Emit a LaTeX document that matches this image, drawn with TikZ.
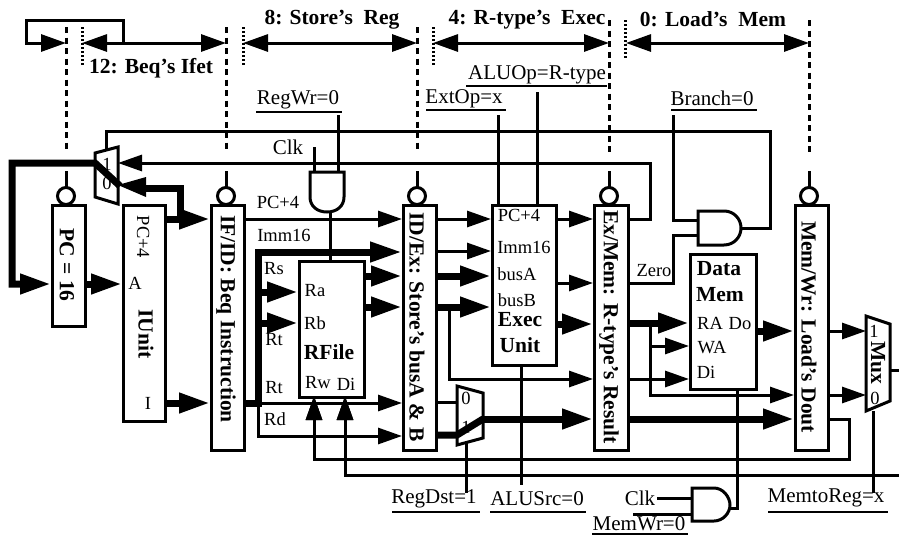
\documentclass[tikz,border=0pt]{standalone}
\usepackage{fontspec}
\setmainfont{Liberation Serif}
\usetikzlibrary{arrows.meta,calc}
\tikzset{
  x=1pt,y=-1pt,
  box/.style={draw,line width=3pt,inner sep=0pt,fill=white,anchor=north west},
  wire/.style={line width=3pt,line cap=butt,line join=miter},
  fat/.style={line width=7pt,line cap=butt,line join=miter},
  head/.style={-{Triangle[length=24pt,width=16pt]}},
  fathead/.style={-{Triangle[length=31pt,width=19pt]}},
  stagearrow/.style={line width=3pt,{Triangle[length=25pt,width=17pt]}-{Triangle[length=25pt,width=17pt]}},
  stagedash/.style={line width=3pt,dash pattern=on 6pt off 4.5pt},
  stagedot/.style={line width=3pt,dash pattern=on 2pt off 2pt},
  reg/.style={font=\fontsize{18.5}{20}\selectfont,inner sep=0pt,text height=12pt,text depth=0pt},
  ctl/.style={font=\fontsize{21}{22}\selectfont,inner sep=0pt},
  bld/.style={font=\fontsize{21.5}{24}\bfseries\selectfont,inner sep=0pt},
  vert/.style={bld,rotate=-90},
  latch/.style={draw,circle,line width=3pt,minimum size=17pt,inner sep=0pt,fill=white},
  uline/.style={line width=2.4pt},
  gateline/.style={line width=3pt,fill=white},
}
\newcommand{\boxnode}[5]{\node[box,minimum width=#4-#2,minimum height=#5-#3] (#1) at (#2,#3) {};}
\begin{document}
\begin{tikzpicture}
\useasboundingbox (0,0) rectangle (899,536);
\fill[white] (0,0) rectangle (899,536);

% stage boundary coordinates
\coordinate (d1) at (66,27);   \coordinate (d1b) at (66,153);
\coordinate (d2) at (226,27);  \coordinate (d2b) at (226,153);
\coordinate (d3) at (417,27);  \coordinate (d3b) at (417,153);
\coordinate (d4) at (609,20);  \coordinate (d4b) at (609,153);
\coordinate (d5) at (809,20);  \coordinate (d5b) at (809,153);
\coordinate (o1) at (82,27);   \coordinate (o1b) at (82,65);
\coordinate (o2) at (243,27);  \coordinate (o2b) at (243,65);
\coordinate (o3) at (433,27);  \coordinate (o3b) at (433,65);
\coordinate (o4) at (625,20);  \coordinate (o4b) at (625,58);
\foreach \a/\b in {d1/d1b,d2/d2b,d3/d3b,d4/d4b,d5/d5b}{\draw[stagedash] (\a)--(\b);}
\foreach \a/\b in {o1/o1b,o2/o2b,o3/o3b,o4/o4b}{\draw[stagedot] (\a)--(\b);}

% stage arrows
\coordinate (t1) at (66,43); \coordinate (t0) at (26,43); \coordinate (t00) at (26,20); \coordinate (t01) at (123,20); \coordinate (t02) at (123,43);
\coordinate (a1l) at (82,43); \coordinate (a1r) at (226,43);
\coordinate (a2l) at (243,43); \coordinate (a2r) at (417,43);
\coordinate (a3l) at (433,43); \coordinate (a3r) at (609,43);
\coordinate (a4l) at (626,43); \coordinate (a4r) at (809,43);
\draw[wire,-{Triangle[length=25pt,width=17pt]}] (t02)--(t01)--(t00)--(t0)--(t1);
\draw[stagearrow] (a1l)--(a1r);
\draw[stagearrow] (a2l)--(a2r);
\draw[stagearrow] (a3l)--(a3r);
\draw[stagearrow] (a4l)--(a4r);

% stage titles
\node[bld] (s12) at (151,68) {12: Beq’s Ifet};
\node[bld] (s8) at (332,20) {8: Store’s\ \ Reg};
\node[bld] (s4) at (527,20) {4: R-type’s\ \ Exec};
\node[bld] (s0) at (713,19) {0: Load’s\ \ Mem};

% control rails
\coordinate (r1a) at (106,150); \coordinate (r1b) at (106,131); \coordinate (r1c) at (770,131); \coordinate (r1d) at (770,228);
\coordinate (andbr) at (741,228);
\draw[wire] (r1a)--(r1b)--(r1c)--(r1d)--(andbr);
\coordinate (r2a) at (627,219); \coordinate (r2b) at (650,219); \coordinate (r2c) at (650,163); \coordinate (m1one) at (118,163);
\draw[wire,head] (r2a)--(r2b)--(r2c)--(m1one);

% control signals down
\coordinate (ext1) at (498,115); \coordinate (ext2) at (498,204);
\coordinate (alu1) at (537,92);  \coordinate (alu2) at (537,204);
\draw[wire] (ext1)--(ext2);
\draw[wire] (alu1)--(alu2);
\coordinate (clkr) at (314,147); \coordinate (clkr2) at (314,172);
\coordinate (rw1) at (338,115);  \coordinate (rw2) at (338,172);
\draw[wire] (clkr)--(clkr2);
\draw[wire] (rw1)--(rw2);
\coordinate (andr) at (330,210); \coordinate (rf) at (330,262);
\draw[wire] (andr)--(rf);

% feedback rails
\coordinate (fb1) at (827,419); \coordinate (fb2) at (849,419); \coordinate (fb3) at (849,459); \coordinate (fb4) at (314,459); \coordinate (rwport) at (314,396);
\draw[wire,head] (fb1)--(fb2)--(fb3)--(fb4)--(rwport);
\coordinate (mout) at (890,370); \coordinate (mout2) at (899,370);
\draw[wire] (mout)--(mout2);
\coordinate (fc1) at (899,475); \coordinate (fc2) at (345,475); \coordinate (diport) at (345,396);
\draw[wire,head] (fc1)--(fc2)--(diport);

% boxes
\boxnode{pc}{51}{204}{84}{325}
\boxnode{iu}{122}{204}{164}{420}
\boxnode{ifid}{210}{204}{243}{449}
\boxnode{idex}{402}{204}{435}{449}
\boxnode{exmem}{593}{204}{627}{449}
\boxnode{memwr}{794}{204}{827}{449}

% latches
\foreach \n/\x/\b in {l1/66/pc,l2/226/ifid,l3/417/idex,l4/609/exmem,l5/809/memwr}{
  \node[latch] (\n) at (\x,196) {};
  \coordinate (\n t) at (\x,171);
  \draw[wire] (\n t)--(\x,188);
}

% wires through the datapath, behind units
\coordinate (pcp1) at (243,219); \coordinate (pcp2) at (402,219);
\draw[wire,head] (pcp1)--(pcp2);
\coordinate (bar1) at (402,252); \coordinate (bar2) at (258,252); \coordinate (bar3) at (258,403); \coordinate (bar4) at (243,403);
\draw[fat,-{Triangle[length=32pt,width=19pt]}] (bar4)--(bar3)--(bar2)--(bar1);
\coordinate (rt) at (258,403); \coordinate (rtend) at (402,403);
\draw[wire,head] (rt)--(rtend);
\coordinate (rd1) at (258,403); \coordinate (rd2) at (258,436); \coordinate (rd3) at (402,436);
\draw[wire,head] (rd1)--(rd2)--(rd3);

% register file
\boxnode{rfile}{298}{260}{363}{396}
\coordinate (rsb) at (258,292); \coordinate (rsp) at (298,292);
\coordinate (rtb) at (258,323); \coordinate (rtp) at (298,323);
\draw[fat,fathead] (rsb)--(rsp);
\draw[fat,fathead] (rtb)--(rtp);
\coordinate (ba1) at (363,276); \coordinate (ba2) at (402,276);
\coordinate (bb1) at (363,307); \coordinate (bb2) at (402,307);
\draw[fat,fathead] (ba1)--(ba2);
\draw[fat,fathead] (bb1)--(bb2);

% the feedback tips over the register file edge
\coordinate (rwt) at (314,425); \draw[wire,head] (rwt)--(rwport);
\coordinate (dit) at (345,425); \draw[wire,head] (dit)--(diport);

% gate RegWr
\draw[gateline] (310,172)--(344,172)--(344,197) .. controls (344,206) and (337,212) .. (327,212) .. controls (317,212) and (310,206) .. (310,197) --cycle;

% exec unit wires
\coordinate (e1) at (435,219); \coordinate (e1b) at (491,219);
\coordinate (e2) at (435,251); \coordinate (e2b) at (491,251);
\coordinate (e3) at (435,276); \coordinate (e3b) at (491,276);
\coordinate (e4) at (435,307); \coordinate (e4b) at (491,307);
\draw[wire,head] (e1)--(e1b);
\draw[wire,head] (e2)--(e2b);
\draw[fat,fathead] (e3)--(e3b);
\draw[fat,fathead] (e4)--(e4b);
\coordinate (br1) at (449,307); \coordinate (br2) at (449,379); \coordinate (br3) at (593,379);
\draw[wire,head] (br1)--(br2)--(br3);
\coordinate (alus) at (521,485); \coordinate (alus0) at (521,360);
\draw[wire] (alus0)--(alus);
\coordinate (mo1) at (481,419); \coordinate (mo2) at (593,419);
\draw[fat,fathead] (mo1)--(mo2);
\coordinate (rd4) at (466,441); \coordinate (rd5) at (466,493);
\draw[wire] (rd4)--(rd5);

\boxnode{exec}{491}{204}{555}{364}
\coordinate (x1) at (555,219); \coordinate (x1b) at (593,219);
\coordinate (x2) at (555,283); \coordinate (x2b) at (593,283);
\coordinate (x3) at (555,324); \coordinate (x3b) at (593,324);
\draw[wire,head] (x1)--(x1b);
\draw[wire,head] (x2)--(x2b);
\draw[fat,fathead] (x3)--(x3b);

% mux RegDst
\draw[line width=3pt] (457,386)--(483,393)--(483,438)--(457,445)--cycle;
\coordinate (mi0) at (435,402); \coordinate (mi0b) at (457,402);
\coordinate (mi1) at (435,435); \coordinate (mi1b) at (457,435);
\draw[wire] (mi0)--(mi0b);
\node[reg] (m2a) at (466,398) {0};
\node[reg] (m2b) at (466,427) {1};
\draw[fat] (mi1)--(mi1b)--(483,419);

% mux PC
\draw[line width=3pt] (95,153)--(118,147)--(118,204)--(95,197)--cycle;
\node[reg] (m1a) at (107,164) {1};
\node[reg] (m1b) at (107,183) {0};
\coordinate (pp1) at (164,219); \coordinate (pp2) at (210,219);
\draw[fat,fathead] (pp1)--(pp2);
\coordinate (pq1) at (180,219); \coordinate (pq2) at (180,188); \coordinate (pq3) at (120,185);
\draw[fat,line join=miter] (pq1)--(pq2)--(140,188);
\fill (146,177)--(146,197)--(118,185)--cycle;
\coordinate (pm) at (120,186); \coordinate (pm2) at (95,163); \coordinate (pm3) at (12,163); \coordinate (pm4) at (12,284); \coordinate (pcin) at (51,284);
\draw[fat,fathead] (pm)--(pm2)--(pm3)--(pm4)--(pcin);
\coordinate (pco) at (84,284); \coordinate (iuA) at (122,284);
\draw[fat,fathead] (pco)--(iuA);
\coordinate (iui) at (164,403); \coordinate (ifi) at (210,403);
\draw[fat,fathead] (iui)--(ifi);

% memory stage wires
\coordinate (ma1) at (627,323); \coordinate (ma2) at (689,323);
\draw[fat,fathead] (ma1)--(ma2);
\coordinate (mb1) at (650,323); \coordinate (mb2) at (650,395); \coordinate (mb3) at (794,395);
\draw[wire,head] (mb1)--(mb2)--(mb3);
\coordinate (wa1) at (650,346); \coordinate (wa2) at (689,346);
\draw[wire,head] (wa1)--(wa2);
\coordinate (di1) at (627,379); \coordinate (di2) at (689,379);
\draw[wire,head] (di1)--(di2);
\coordinate (z1) at (627,283); \coordinate (z2) at (673,283); \coordinate (z3) at (673,235); \coordinate (z4) at (698,235);
\draw[wire] (z1)--(z2)--(z3)--(z4);
\coordinate (b1) at (673,115); \coordinate (b2) at (673,220); \coordinate (b3) at (698,220);
\draw[wire] (b1)--(b2)--(b3);
\draw[gateline] (698,211)--(724,211) .. controls (734,211) and (741,219) .. (741,228) .. controls (741,237) and (734,245) .. (724,245) --(698,245)--cycle;

\coordinate (mwr1) at (737,380); \coordinate (mwr2) at (737,508); \coordinate (mwr3) at (728,508);
\draw[wire] (mwr1)--(mwr2)--(mwr3);
\coordinate (th1) at (627,419); \coordinate (th2) at (794,419);
\draw[fat,fathead] (th1)--(th2);
\boxnode{dmem}{689}{253}{755}{388}
\coordinate (do1) at (755,331); \coordinate (do2) at (794,331);
\draw[fat,fathead] (do1)--(do2);

% gate Mem
\coordinate (cl1) at (657,498); \coordinate (cl2) at (692,498);
\coordinate (mw1) at (633,514); \coordinate (mw2) at (692,514);
\draw[wire] (cl1)--(cl2);
\draw[wire] (mw1)--(mw2);
\draw[gateline] (692,488)--(714,488) .. controls (723,488) and (730,497) .. (730,505) .. controls (730,513) and (723,521) .. (714,521) --(692,521)--cycle;

% mux out
\coordinate (w1) at (827,331); \coordinate (w1b) at (866,331);
\coordinate (w2) at (827,395); \coordinate (w2b) at (866,395);
\draw[wire,head] (w1)--(w1b);
\draw[wire,head] (w2)--(w2b);
\coordinate (ms1) at (873,411); \coordinate (ms2) at (873,493);
\draw[wire] (ms1)--(ms2);
\draw[line width=3pt,fill=white] (866,316)--(890,324)--(890,401)--(866,411)--cycle;
\node[reg] (m3a) at (874,331) {1};
\node[reg] (m3b) at (875,398) {0};
\node[vert] (muxt) at (878,363) {Mux};

% vertical box text
\node[vert] (tpc) at (67,265) {PC = 16};
\node[reg,rotate=-90] (tpc4) at (143,237) {PC+4};
\node[vert] (tiu) at (146,334) {IUnit};
\node[reg] (tA) at (135,283) {A};
\node[reg] (tI) at (148,403) {I};
\node[vert] (tif) at (226,319) {IF/ID: Beq Instruction};
\node[vert] (tid) at (417,327) {ID/Ex: Store’s busA \& B};
\node[vert] (tex) at (609,327) {Ex/Mem: R-type’s Result};
\node[vert] (tmw) at (809,327) {Mem/Wr: Load’s Dout};

% small labels
\node[reg] (lpc4) at (278,202) {PC+4};
\node[reg] (limm) at (284,235) {Imm16};
\node[reg] (lrs) at (274,268) {Rs};
\node[reg] (lrt) at (274,339) {Rt};
\node[reg] (lrt2) at (274,387) {Rt};
\node[reg] (lrd) at (275,419) {Rd};
\node[reg] (lra) at (315,290) {Ra};
\node[reg] (lrb) at (315,323) {Rb};
\node[bld] (lrf) at (329,352) {RFile};
\node[reg] (lrw) at (318,382) {Rw};
\node[reg] (ldi) at (346,384) {Di};
\node[reg] (ex1) at (519,215) {PC+4};
\node[reg] (ex2) at (524,247) {Imm16};
\node[reg] (ex3) at (517,274) {busA};
\node[reg] (ex4) at (517,300) {busB};
\node[bld] (ex5) at (520,320) {Exec};
\node[bld] (ex6) at (520,345) {Unit};
\node[reg] (lz) at (654,270) {Zero};
\node[bld] (dm1) at (719,269) {Data};
\node[bld] (dm2) at (720,295) {Mem};
\node[reg] (dra) at (710,323) {RA};
\node[reg] (ddo) at (740,323) {Do};
\node[reg] (dwa) at (712,347) {WA};
\node[reg] (ddi) at (706,372) {Di};
\node[ctl] (lclk) at (288,147) {Clk};
\node[ctl] (lclk2) at (640,498) {Clk};

% control labels
\node[ctl] (crw) at (298,100) {RegWr=0};
\node[ctl] (cext) at (464,99) {ExtOp=x};
\node[ctl] (calu) at (537,75) {ALUOp=R-type};
\node[ctl] (cbr) at (712,98) {Branch=0};
\node[ctl] (crd) at (434,499) {RegDst=1};
\node[ctl] (cas) at (537,499) {ALUSrc=0};
\node[ctl] (cmw) at (639,524) {MemWr=0};
\node[ctl] (cmr) at (826,498) {MemtoReg=x};
\foreach \xa/\xb/\y in {256/342/112,426/506/110,466/607/86,671/757/110,392/480/512,490/586/512,592/688/534,768/888/512}{
  \draw[uline] (\xa,\y)--(\xb,\y);
}
\end{tikzpicture}
\end{document}
